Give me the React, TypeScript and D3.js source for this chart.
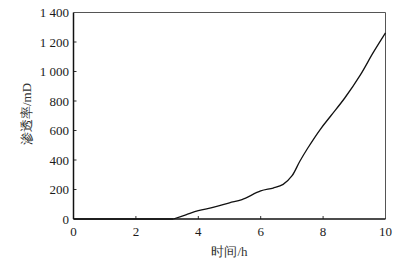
import React from "react";
import * as d3 from "d3";

const timeH = [0, 1, 2, 3, 3.2, 3.6, 4, 4.5, 5, 5.4, 6, 6.4, 6.72, 7.0, 7.25, 7.5, 7.9, 8.25, 8.7, 9.2, 9.6, 10];
const permeability = [0, 0, 0, 0, 0, 28, 56, 80, 110, 132, 190, 210, 235, 292, 390, 478, 605, 700, 822, 979, 1126, 1262];
const xTicks = [0, 2, 4, 6, 8, 10];
const yTicks = [0, 200, 400, 600, 800, 1000, 1200, 1400];
const xLabel = "时间/h";
const yLabel = "渗透率/mD";

const W = 407, H = 266;
const m = { left: 73.5, right: 385.5, top: 12.5, bottom: 219 };

const fmt = d3.formatLocale({ decimal: ".", thousands: " ", grouping: [3], currency: ["", ""] }).format(",d");

export default function App() {
  const x = d3.scaleLinear().domain([0, 10]).range([m.left, m.right]);
  const y = d3.scaleLinear().domain([0, 1400]).range([m.bottom, m.top]);
  const pts = timeH.map((t, i) => [t, permeability[i]] as [number, number]);
  const flat = pts.filter(p => p[0] <= 3.2);
  const rising = pts.filter(p => p[0] >= 3.2);
  const straight = d3.line<[number, number]>().x(d => x(d[0])).y(d => y(d[1]));
  const smooth = d3.line<[number, number]>().x(d => x(d[0])).y(d => y(d[1])).curve(d3.curveCatmullRom.alpha(0.5));
  const font = "'Liberation Serif', 'Times New Roman', serif";
  return (
    <svg width={W} height={H} style={{ position: "absolute", left: 0, top: 0, background: "#fff" }}>
      <rect x={0} y={0} width={W} height={H} fill="#fff" />
      <line x1={m.left} x2={m.right} y1={m.top} y2={m.top} stroke="#555" strokeWidth={1} />
      <line x1={m.right} x2={m.right} y1={m.top} y2={m.bottom} stroke="#555" strokeWidth={1} />
      {xTicks.map(t => (
        <g key={"x" + t}>
          {t > 0 && t < 10 && <line x1={x(t)} x2={x(t)} y1={m.bottom} y2={m.bottom - 3} stroke="#333" strokeWidth={1} />}
          <text x={x(t)} y={m.bottom + 17} textAnchor="middle" fontFamily={font} fontSize={13} fill="#1a1a1a">{t}</text>
        </g>
      ))}
      {yTicks.map(t => (
        <g key={"y" + t}>
          {t > 0 && t < 1400 && <line x1={m.left} x2={m.left + 3} y1={y(t)} y2={y(t)} stroke="#333" strokeWidth={1} />}
          <text x={m.left - 4.5} y={y(t) + 4.5} textAnchor="end" fontFamily={font} fontSize={13} fill="#1a1a1a">{fmt(t)}</text>
        </g>
      ))}
      <path d={straight(flat) || ""} fill="none" stroke="#111" strokeWidth={1.3} />
      <path d={smooth(rising) || ""} fill="none" stroke="#111" strokeWidth={1.3} strokeLinejoin="round" />
      <line x1={m.left} x2={m.left} y1={m.top} y2={m.bottom} stroke="#111" strokeWidth={1.5} />
      <line x1={m.left} x2={m.right} y1={m.bottom} y2={m.bottom} stroke="#111" strokeWidth={1.5} />
      <text x={(m.left + m.right) / 2} y={256} textAnchor="middle" fontFamily={font} fontSize={13} fill="#333">{xLabel}</text>
      <text transform={`translate(31,114) rotate(-90)`} textAnchor="middle" fontFamily={font} fontSize={13} fill="#333">{yLabel}</text>
    </svg>
  );
}
